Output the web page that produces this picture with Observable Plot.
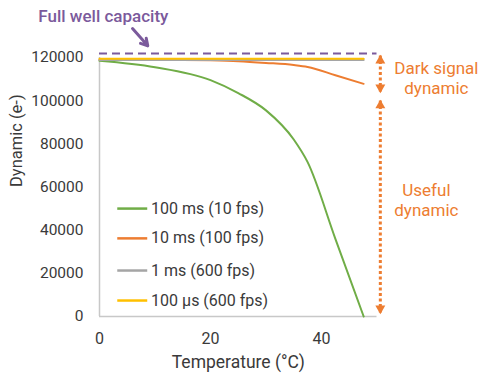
<!DOCTYPE html>
<html>
<head>
<meta charset="utf-8">
<script src="https://cdn.jsdelivr.net/npm/d3@7"></script>
<script src="https://cdn.jsdelivr.net/npm/@observablehq/plot@0.6"></script>
<style>
  html, body { margin: 0; padding: 0; background: #fff; }
</style>
</head>
<body>
<div id="chart"></div>
<script>
// ---- data ----
const temperatures = [0, 10, 20, 25, 30, 35, 37.5, 42.5, 47.6];
const series100ms = [118500, 115500, 109500, 103500, 95500, 82000, 71500, 36000, 0];
const series10ms  = [119000, 119000, 118700, 118300, 117500, 116500, 115600, 111800, 107800];
const series1ms   = [118800, 118800, 118800, 118800, 118800, 118800, 118800, 118800, 118800];
const series100us = [119400, 119400, 119400, 119400, 119400, 119400, 119400, 119400, 119400];
const seriesNames = ["100 ms (10 fps)", "10 ms (100 fps)", "1 ms (600 fps)", "100 µs (600 fps)"];
const seriesColors = ["#70ad47", "#ed7d31", "#a5a5a5", "#ffc000"];
const fullWell = 121800;
const xTicks = [0, 20, 40];
const yTicks = [0, 20000, 40000, 60000, 80000, 100000, 120000];
const darkSignalRange = [120900, 103800];
const usefulRange = [100100, 1400];

// ---- build tables ----
const allSeries = [series100ms, series10ms, series1ms, series100us];
const rows = [];
allSeries.forEach((vals, i) => vals.forEach((v, j) => rows.push({T: temperatures[j], v, s: seriesNames[i]})));

// layout (in scale units)
const arrowX = 50.6;
const legendY = [50000, 36200, 21300, 7400];
const legendRows = seriesNames.map((s, i) => ({s, y: legendY[i]}));
const purple = "#7b5a9c";
const orange = "#ed7d31";
const txt = "#3a3a3a";

const marks = [
  Plot.ruleY([0], {stroke: "#c8c8c8", strokeWidth: 1.5}),
  Plot.ruleX([0], {stroke: "#c8c8c8", strokeWidth: 1.5}),
  Plot.axisX({ticks: xTicks, tickSize: 0, tickPadding: 16, fontSize: 16, label: null}),
  Plot.axisY({ticks: yTicks, tickSize: 0, tickPadding: 16, fontSize: 15.5, label: null, tickFormat: d3.format("d")}),
  Plot.text(["Temperature (°C)"], {text: d => d, frameAnchor: "bottom", dy: 51, fontSize: 17.5, fill: txt}),
  Plot.text(["Dynamic (e-)"], {text: d => d, frameAnchor: "left", dx: -83, rotate: -90, fontSize: 16.5, fill: txt}),
  // full well
  Plot.ruleY([fullWell], {x1: 0, x2: 50, stroke: purple, strokeWidth: 2, strokeDasharray: "8,5"}),
  // series lines
  ...seriesNames.map((s, i) => Plot.line(rows.filter(r => r.s === s), {x: "T", y: "v", stroke: seriesColors[i], strokeWidth: 2, curve: "monotone-x"})),
  // legend
  Plot.link(legendRows, {x1: 3.2, x2: 8.6, y1: "y", y2: "y", stroke: (d, i) => seriesColors[i], strokeWidth: 2.5}),
  Plot.text(legendRows, {x: 9.3, y: "y", text: "s", textAnchor: "start", fontSize: 16, fill: txt}),
  // annotations
  Plot.text(["Full well capacity"], {x: 0.7, y: 139000, text: d => d, fontSize: 17, fontWeight: 500, fill: purple}),
  Plot.arrow([{x1: 5.95, y1: 133400, x2: 8.7, y2: 125400}], {x1: "x1", y1: "y1", x2: "x2", y2: "y2", stroke: purple, strokeWidth: 3, headLength: 9}),
  Plot.link([{a: darkSignalRange[0], b: darkSignalRange[1]}, {a: usefulRange[0], b: usefulRange[1]}], {x1: arrowX, x2: arrowX, y1: "a", y2: "b", stroke: orange, strokeWidth: 3, strokeDasharray: "3,2.5"}),
  Plot.dot([darkSignalRange[0], usefulRange[0]], {x: arrowX, y: d => d, symbol: "triangle", r: 3.7, fill: orange, dy: 5}),
  Plot.dot([darkSignalRange[1], usefulRange[1]], {x: arrowX, y: d => d, symbol: "triangle", r: 3.7, fill: orange, rotate: 180, dy: -5}),
  Plot.text(["Dark signal\ndynamic"], {x: 60.7, y: 110500, text: d => d, fontSize: 17, fill: orange, lineHeight: 1.15}),
  Plot.text(["Useful\ndynamic"], {x: 58.9, y: 54200, text: d => d, fontSize: 17, fill: orange, lineHeight: 1.15})
];

const chart = Plot.plot({
  width: 488,
  height: 387,
  marginLeft: 99,
  marginRight: 111.5,
  marginTop: 57,
  marginBottom: 71,
  x: {domain: [0, 50]},
  y: {domain: [0, 120000]},
  style: {fontFamily: "Roboto, sans-serif", fontSize: "16px", color: txt, background: "#fff", overflow: "visible"},
  marks
});
document.getElementById("chart").appendChild(chart);
</script>
</body>
</html>
